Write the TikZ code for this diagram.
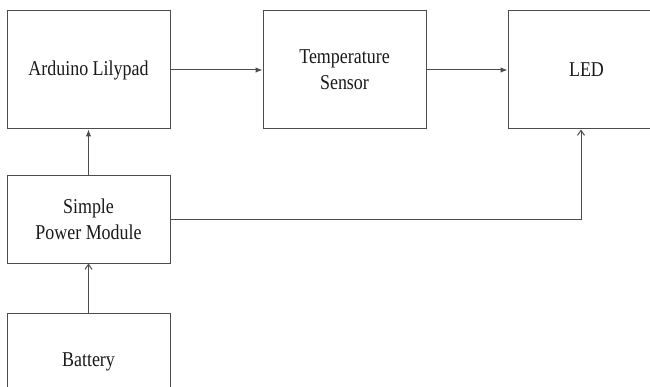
\documentclass[tikz,border=0pt]{standalone}
\usepackage{fontspec}
\setmainfont{Liberation Serif}
\usetikzlibrary{arrows.meta}
\newcommand{\tallt}[1]{\scalebox{0.97}[1.14]{#1}}
\tikzset{
  blk/.style={draw=black!70, line width=1pt, rectangle, inner sep=0pt, align=center,
    font=\fontsize{18.5}{26}\selectfont, text=black!90},
  conn/.style={draw=black!70, line width=1pt},
  solidtip/.style={conn, -{Latex[length=7pt,width=5.5pt]}},
  opentip/.style={conn, -{Straight Barb[length=5pt,width=7pt]}}
}
\begin{document}
\begin{tikzpicture}[x=1pt,y=-1pt]
\useasboundingbox (0,0) rectangle (650,387);
\clip (0,0) rectangle (650,387);
\node[blk, minimum width=163pt, minimum height=118pt] (ard) at (88.5,70) {\tallt{Arduino Lilypad}};
\node[blk, minimum width=163pt, minimum height=118pt] (temp) at (344.5,70) {\tallt{Temperature}\\\tallt{Sensor}};
\node[blk, minimum width=157pt, minimum height=118pt] (led) at (586.5,70) {\tallt{LED}};
\node[blk, minimum width=163pt, minimum height=87pt] (pwr) at (88.5,219.5) {\tallt{Simple}\\\tallt{Power Module}};
\node[blk, minimum width=163pt, minimum height=98pt] (bat) at (88.5,362) {\tallt{Battery}};
\coordinate (corner) at (581,220);
\draw[solidtip] (ard.east) -- (temp.west);
\draw[solidtip] (temp.east) -- (led.west);
\draw[solidtip] (pwr.north) -- (ard.south);
\draw[opentip] (bat.north) -- (pwr.south);
\draw[opentip] (pwr.east |- corner) -- (corner) -- (corner |- led.south);
\end{tikzpicture}
\end{document}
